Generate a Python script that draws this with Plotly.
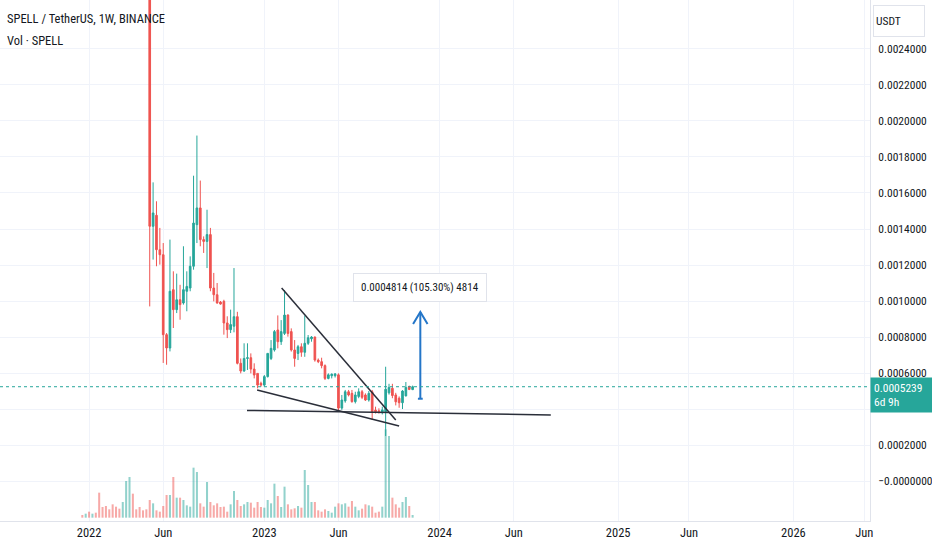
import pandas as pd
import plotly.graph_objects as go

# weekly bars, SPELL/USDT (Binance), first bar = week of 20 Dec 2021
weeks = pd.date_range("2021-12-20", periods=99, freq="W-MON")

# candles (the first ones sit above the visible range)
opens = [
    0.0185, 0.0160, 0.0175, 0.0130, 0.0138, 0.0105, 0.0065, 0.0056, 0.0050, 0.0046,
    0.0040, 0.0037, 0.0034, 0.0039, 0.0047, 0.0051, 0.0043, 0.0040, 0.0036, 0.0033,
    0.0031, 0.001415, 0.001476, 0.001285, 0.001257, 0.000813, 0.000739, 0.001063, 0.000952, 0.001007,
    0.000989, 0.001054, 0.001072, 0.001193, 0.001424, 0.001517, 0.001341, 0.001331, 0.001369, 0.001072,
    0.001035, 0.000994, 0.000998, 0.000878, 0.000841, 0.00086, 0.000913, 0.000654, 0.000611, 0.000681,
    0.000685, 0.000622, 0.000598, 0.000543, 0.000533, 0.00058, 0.000681, 0.000728, 0.000839, 0.000774,
    0.00082, 0.000922, 0.00083, 0.000728, 0.000709, 0.000746, 0.000715, 0.000765, 0.00079, 0.0008,
    0.000672, 0.000663, 0.000641, 0.00057, 0.000585, 0.000585, 0.00059, 0.000405, 0.000445, 0.000496,
    0.000487, 0.000441, 0.00047, 0.000496, 0.000478, 0.00045, 0.000496, 0.000394, 0.00039, 0.00038,
    0.000385, 0.00049, 0.000515, 0.000478, 0.00046, 0.000435, 0.000473, 0.000525, 0.000508,
]
highs = [
    0.0200, 0.0190, 0.0180, 0.0145, 0.0140, 0.0108, 0.0070, 0.0062, 0.0053, 0.0049,
    0.0043, 0.0039, 0.0041, 0.0052, 0.0060, 0.0053, 0.0045, 0.0042, 0.0038, 0.0035,
    0.0033, 0.001659, 0.001554, 0.001406, 0.001322, 0.000822, 0.001341, 0.001165, 0.001152, 0.00109,
    0.001304, 0.001165, 0.001248, 0.001696, 0.001919, 0.001669, 0.001359, 0.001507, 0.001406, 0.001156,
    0.0011, 0.001, 0.001007, 0.000915, 0.000952, 0.001183, 0.00094, 0.000681, 0.000765, 0.000765,
    0.000709, 0.000654, 0.000598, 0.000552, 0.000589, 0.000709, 0.000783, 0.000839, 0.00092, 0.000894,
    0.001061, 0.000926, 0.000848, 0.000783, 0.000756, 0.000765, 0.000919, 0.000811, 0.000805, 0.000802,
    0.000681, 0.000685, 0.000648, 0.000598, 0.000598, 0.0006, 0.000598, 0.000478, 0.000506, 0.000506,
    0.000506, 0.000496, 0.000515, 0.000506, 0.000487, 0.0005, 0.000506, 0.000413, 0.000404, 0.000413,
    0.000635, 0.00054, 0.00054, 0.00049, 0.00047, 0.000505, 0.00055, 0.00053, 0.00053,
]
lows = [
    0.0150, 0.0150, 0.0125, 0.0115, 0.0100, 0.0058, 0.0052, 0.0048, 0.0044, 0.0038,
    0.0035, 0.0033, 0.0033, 0.0037, 0.0045, 0.0041, 0.0039, 0.0035, 0.0032, 0.0029,
    0.00097, 0.00123, 0.001193, 0.001202, 0.000656, 0.000646, 0.00072, 0.00085, 0.000933, 0.000896,
    0.00098, 0.000943, 0.001054, 0.001174, 0.001322, 0.001304, 0.001267, 0.001183, 0.001054, 0.000998,
    0.000985, 0.00098, 0.000813, 0.000794, 0.000822, 0.000826, 0.000648, 0.000598, 0.000607, 0.000617,
    0.000598, 0.00057, 0.000515, 0.000524, 0.000524, 0.000575, 0.000672, 0.000719, 0.000737, 0.000756,
    0.000811, 0.000802, 0.000719, 0.000635, 0.000672, 0.00069, 0.00069, 0.000756, 0.000774, 0.000663,
    0.000655, 0.000626, 0.000561, 0.000565, 0.00057, 0.000575, 0.00039, 0.000395, 0.000435, 0.00047,
    0.000435, 0.000431, 0.00046, 0.000455, 0.000445, 0.000441, 0.000339, 0.000375, 0.000375, 0.00037,
    0.00025, 0.00048, 0.00046, 0.00042, 0.000407, 0.0004, 0.00047, 0.000505, 0.000505,
]
closes = [
    0.0160, 0.0175, 0.0130, 0.0138, 0.0105, 0.0065, 0.0056, 0.0050, 0.0046, 0.0040,
    0.0037, 0.0034, 0.0039, 0.0047, 0.0051, 0.0043, 0.0040, 0.0036, 0.0033, 0.0031,
    0.001415, 0.001489, 0.001285, 0.001257, 0.000813, 0.000739, 0.001054, 0.000952, 0.001007, 0.00098,
    0.001063, 0.001081, 0.001193, 0.001433, 0.001517, 0.001341, 0.001331, 0.001369, 0.001072, 0.001035,
    0.000989, 0.000983, 0.000878, 0.000841, 0.000869, 0.000913, 0.000654, 0.000611, 0.000681, 0.000685,
    0.000622, 0.000589, 0.000533, 0.000533, 0.00058, 0.000709, 0.000737, 0.00083, 0.000774, 0.00083,
    0.000922, 0.00082, 0.000728, 0.000681, 0.000746, 0.000715, 0.000765, 0.000796, 0.0008, 0.000672,
    0.000663, 0.000641, 0.00057, 0.00059, 0.000593, 0.000595, 0.000405, 0.00045, 0.000496, 0.000478,
    0.000441, 0.000478, 0.000496, 0.000465, 0.00045, 0.000487, 0.000385, 0.000385, 0.00038, 0.000395,
    0.00051, 0.00052, 0.000475, 0.00044, 0.000435, 0.0005, 0.00052, 0.000509, 0.0005239,
]
# volume, in units of 100M SPELL
volume = [
    8, 12, 18, 12, 15, 75, 32, 35, 25, 40, 33, 27, 47, 110, 122, 72, 25, 32, 22, 25,
    53, 43, 22, 18, 35, 68, 68, 122, 60, 60, 53, 37, 33, 150, 137, 43, 33, 107, 47, 37,
    43, 32, 33, 18, 40, 80, 53, 35, 40, 47, 45, 30, 47, 32, 30, 53, 43, 102, 65, 32,
    93, 40, 25, 28, 35, 30, 143, 98, 47, 47, 22, 18, 25, 20, 15, 33, 43, 40, 43, 33,
    50, 33, 22, 27, 40, 37, 33, 15, 18, 33, 265, 245, 60, 40, 30, 47, 62, 35, 8,
]

# drawings on the chart
wedge_top_dates = ["2023-02-07", "2023-10-02"]
wedge_top_prices = [0.001072, 0.000339]
wedge_low_dates = ["2022-12-18", "2023-10-09"]
wedge_low_prices = [0.000506, 0.000306]
support_dates = ["2022-11-27", "2024-08-19"]
support_prices = [0.000392, 0.000367]
target_date = "2023-11-22"
target_from = 0.0004572
target_to = 0.0009386
target_text = "0.0004814 (105.30%) 4814"

price_ticks = [0.0, 0.0002, 0.0004, 0.0006, 0.0008, 0.0010, 0.0012, 0.0014,
               0.0016, 0.0018, 0.0020, 0.0022, 0.0024]
time_ticks = ["2022-01-03", "2022-06-06", "2023-01-02", "2023-06-05", "2024-01-01",
              "2024-06-03", "2025-01-06", "2025-06-02", "2026-01-05", "2026-06-01"]
time_labels = ["2022", "Jun", "2023", "Jun", "2024", "Jun", "2025", "Jun", "2026", "Jun"]

UP = "#26a69a"
DOWN = "#ef5350"
TXT = "#131722"
GRID = "#f0f3fa"
FONT = "Liberation Sans Narrow, Roboto Condensed, Roboto"

vol_colors = ["rgba(38,166,154,0.5)" if c >= o else "rgba(239,83,80,0.5)"
              for o, c in zip(opens, closes)]

fig = go.Figure()

# volume goes on the base axis so the candles are drawn on top
fig.add_trace(go.Bar(
    x=weeks, y=volume, marker_color=vol_colors, marker_line_width=0,
    width=7 * 24 * 3600 * 1000 * 0.6, yaxis="y", hoverinfo="skip",
))
fig.add_trace(go.Candlestick(
    x=weeks, open=opens, high=highs, low=lows, close=closes, yaxis="y2",
    increasing=dict(line=dict(color=UP, width=1), fillcolor=UP),
    decreasing=dict(line=dict(color=DOWN, width=1), fillcolor=DOWN),
    whiskerwidth=0,
))

for xs, ys in [(wedge_top_dates, wedge_top_prices),
               (wedge_low_dates, wedge_low_prices),
               (support_dates, support_prices)]:
    fig.add_trace(go.Scatter(x=xs, y=ys, mode="lines", yaxis="y2",
                             line=dict(color="#2a2e39", width=1.5), hoverinfo="skip"))

# price range arrow
ARROW = "#2476c8"
t = pd.Timestamp(target_date)
wing = pd.Timedelta(days=15)
head = 0.0000667
fig.add_trace(go.Scatter(x=[t, t], y=[target_from, target_to], mode="lines", yaxis="y2",
                         line=dict(color=ARROW, width=2), hoverinfo="skip"))
fig.add_trace(go.Scatter(x=[t - wing, t, t + wing], y=[target_to - head, target_to, target_to - head],
                         mode="lines", yaxis="y2", line=dict(color=ARROW, width=2), hoverinfo="skip"))
fig.add_trace(go.Scatter(x=[t - pd.Timedelta(days=5), t + pd.Timedelta(days=5)],
                         y=[target_from, target_from], mode="lines", yaxis="y2",
                         line=dict(color=ARROW, width=2), hoverinfo="skip"))

last = closes[-1]
# the 0.0004 label sits behind the last-price tag in the original, so leave it blank
ticktext = ["\u22120.0000000" if v == 0 else ("" if abs(v - 0.0004) < 1e-9 else f"{v:.7f}")
            for v in price_ticks]

fig.update_layout(
    width=932, height=550,
    margin=dict(l=0, r=62, t=0, b=29),
    paper_bgcolor="white", plot_bgcolor="white",
    showlegend=False,
    font=dict(family=FONT, size=12, color=TXT),
    xaxis=dict(
        type="date", range=["2021-07-02", "2026-06-13"],
        tickvals=time_ticks, ticktext=time_labels, tickfont=dict(size=12.5),
        showgrid=True, gridcolor=GRID, zeroline=False,
        showline=True, linecolor="#e0e3eb", ticks="", rangeslider=dict(visible=False),
    ),
    yaxis=dict(range=[-10, 1553], visible=False, fixedrange=True),
    yaxis2=dict(
        overlaying="y", side="right", range=[-0.000222, 0.002672],
        tickvals=price_ticks, ticktext=ticktext, tickfont=dict(size=11.5),
        showgrid=True, gridcolor=GRID, zeroline=False,
        showline=True, linecolor="#e0e3eb", ticks="", ticklabelstandoff=5,
    ),
    shapes=[dict(type="line", xref="paper", x0=0, x1=1, yref="y2", y0=last, y1=last,
                 line=dict(color=UP, width=1, dash="dot"))],
)

annotations = [
    dict(xref="paper", yref="paper", x=0, y=1, xanchor="left", yanchor="middle",
         xshift=5, yshift=-18, showarrow=False, font=dict(size=12.5, color=TXT),
         text="SPELL / TetherUS, 1W, BINANCE"),
    dict(xref="paper", yref="paper", x=0, y=1, xanchor="left", yanchor="middle",
         xshift=5, yshift=-40, showarrow=False, font=dict(size=12.5, color=TXT),
         text="Vol · SPELL"),
    dict(xref="paper", yref="paper", x=1, y=1, xanchor="left", yanchor="top",
         xshift=3, yshift=-5, showarrow=False, width=46, height=26, align="left",
         bordercolor="#e0e3eb", borderwidth=1, borderpad=2, bgcolor="white",
         font=dict(size=11.5, color=TXT), text="USDT"),
    dict(xref="paper", yref="y2", x=1, y=last, xanchor="left", yanchor="top",
         yshift=10, showarrow=False, width=56, height=28, align="left",
         bgcolor=UP, borderpad=3, font=dict(size=11.5, color="white"),
         text=f"{last:.7f}<br>6d 9h"),
    dict(x=t, y=target_to, yref="y2", xanchor="center", yanchor="bottom", yshift=10,
         showarrow=False, bgcolor="white", bordercolor="#e0e3eb", borderwidth=1,
         borderpad=7, font=dict(size=11, color=TXT), text=target_text),
]
fig.update_layout(annotations=annotations)

# the page's default body margin would push the chart 8px off
fig.write_html("out.html", config={"displayModeBar": False},
               post_script="document.body.style.margin = '0';")
